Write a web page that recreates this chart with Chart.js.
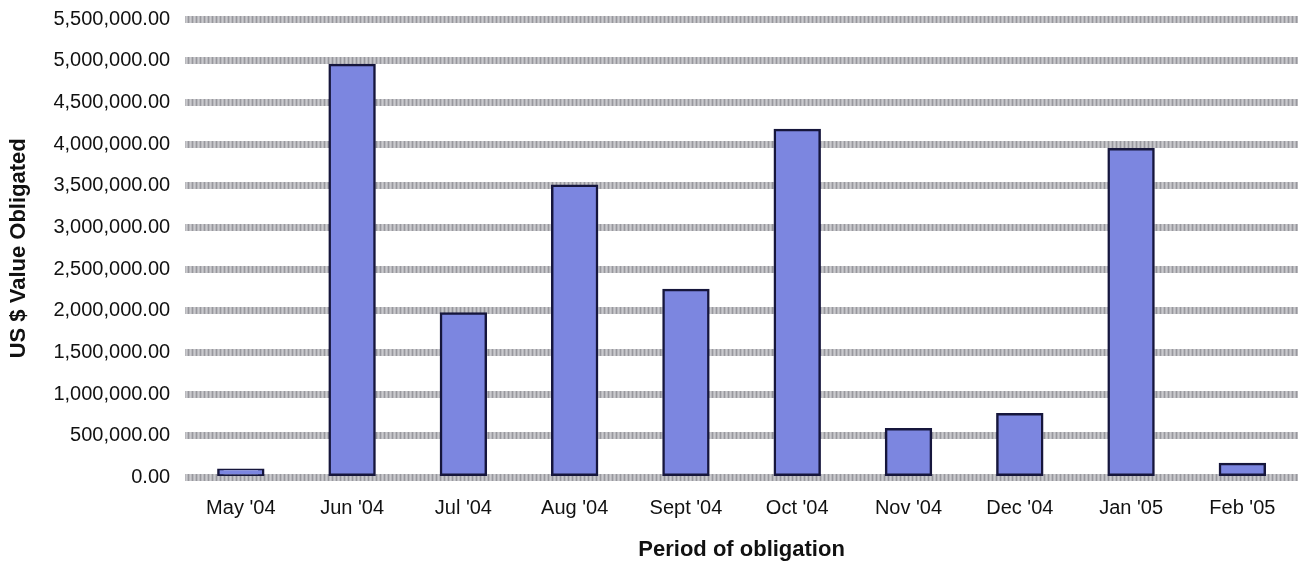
<!DOCTYPE html>
<html>
<head>
<meta charset="utf-8">
<script src="https://cdn.jsdelivr.net/npm/chart.js@4"></script>
<style>
  html, body { margin: 0; padding: 0; background: #fff; }
  #frame { width: 1298px; height: 563px; overflow: hidden; position: relative; }
  #wrap { width: 1298px; height: 571px; position: absolute; top: -8px; left: 0; }
</style>
</head>
<body>
<div id="frame"><div id="wrap"><canvas id="obligChart"></canvas></div></div>
<script>
var periods = ["May '04", "Jun '04", "Jul '04", "Aug '04", "Sept '04", "Oct '04", "Nov '04", "Dec '04", "Jan '05", "Feb '05"];
var obligated = [85000, 4940000, 1960000, 3490000, 2240000, 4160000, 570000, 750000, 3930000, 155000];
var yMax = 5500000;
var yStep = 500000;

Chart.defaults.font.family = "'Liberation Sans', Arial, sans-serif";
Chart.defaults.color = '#111';

// hatched grey band used for the gridlines
function gridPattern() {
    var c = document.createElement('canvas');
    c.width = 4; c.height = 8;
    var g = c.getContext('2d');
    g.fillStyle = '#b8b8bc';
    g.fillRect(0, 0, 4, 8);
    g.fillStyle = '#98989e';
    g.fillRect(0, 0, 1, 8);
    g.fillStyle = '#cacace';
    g.fillRect(2, 0, 1, 8);
    return g.createPattern(c, 'repeat');
}

let ctx = document.getElementById('obligChart').getContext('2d');

let obligChart = new Chart(ctx, {
    type: 'bar',
    data: {
        labels: periods,
        datasets: [{
            label: 'US $ Value Obligated',
            data: obligated,
            backgroundColor: 'rgb(124, 134, 224)',
            borderColor: '#16163c',
            borderWidth: 2.5,
            borderSkipped: false,
            inflateAmount: 2,
            categoryPercentage: 1.0,
            barPercentage: 0.39
        }]
    },
    options: {
        responsive: true,
        maintainAspectRatio: false,
        animation: false,
        layout: { padding: { top: 0, right: 0, left: 6, bottom: 0 } },
        plugins: {
            legend: { display: false },
            tooltip: { enabled: false }
        },
        scales: {
            x: {
                grid: { display: false, drawTicks: false },
                border: { display: false },
                ticks: { font: { size: 20 }, color: '#111', padding: 19 },
                title: {
                    display: true,
                    text: 'Period of obligation',
                    font: { size: 22, weight: 'bold' },
                    color: '#111',
                    padding: { top: -3, bottom: 0 }
                }
            },
            y: {
                min: 0,
                max: yMax,
                ticks: {
                    stepSize: yStep,
                    font: { size: 20 },
                    color: '#111',
                    padding: 15,
                    callback: function (v) {
                        return Number(v).toLocaleString('en-US', { minimumFractionDigits: 2, maximumFractionDigits: 2 });
                    }
                },
                grid: {
                    color: gridPattern(),
                    lineWidth: 7,
                    drawTicks: false
                },
                border: { display: false },
                title: {
                    display: true,
                    text: 'US $ Value Obligated',
                    font: { size: 22, weight: 'bold' },
                    color: '#111',
                    padding: { top: 0, bottom: 6 }
                }
            }
        }
    }
});
</script>
</body>
</html>
